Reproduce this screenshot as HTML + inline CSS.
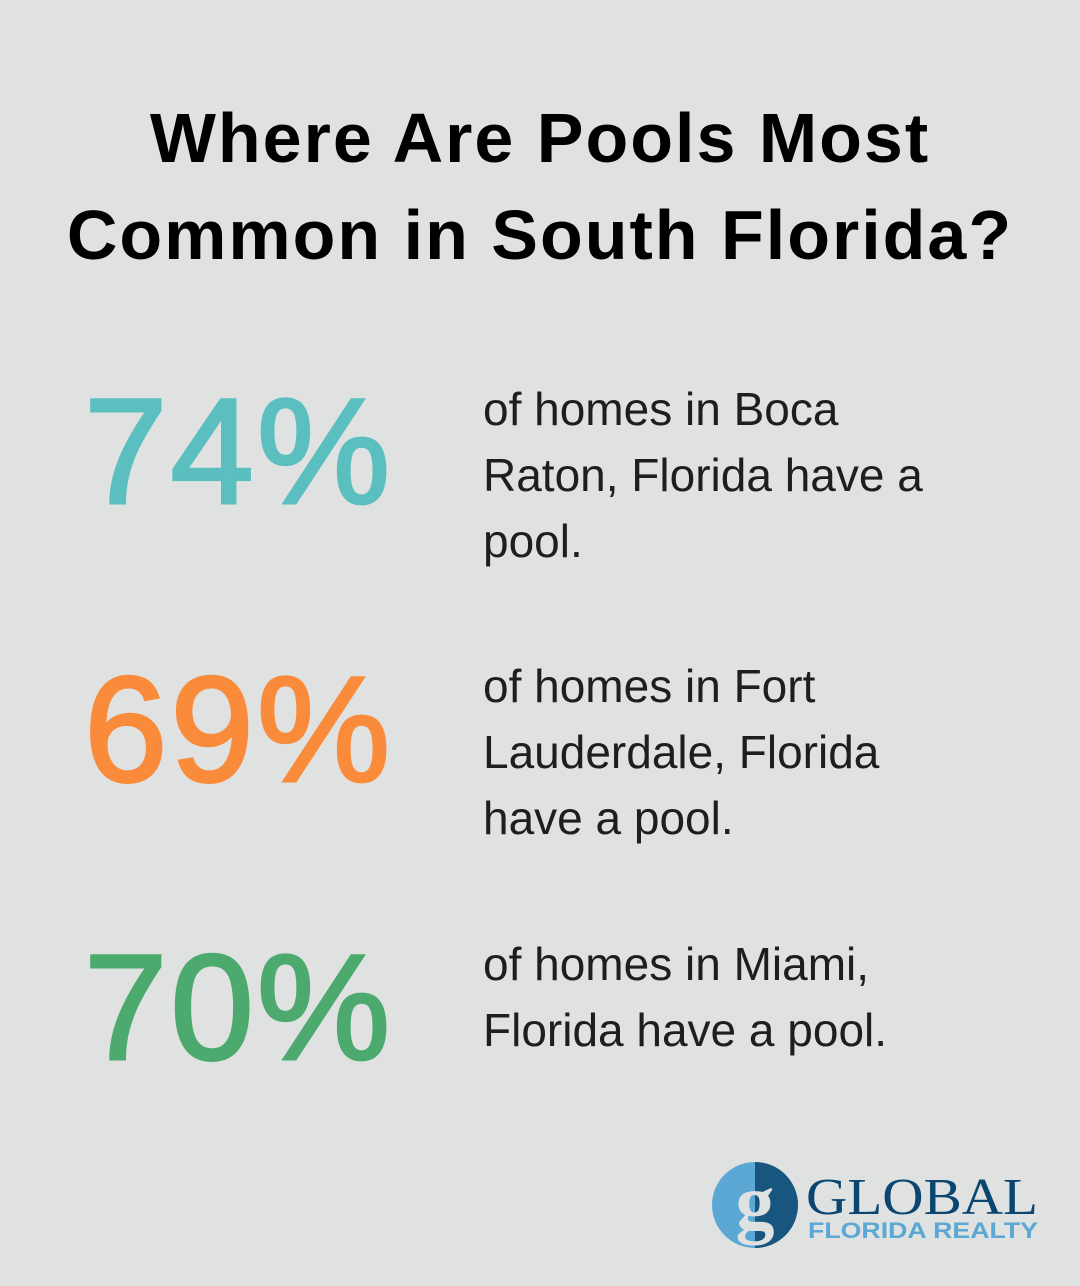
<!DOCTYPE html>
<html><head><style>
body{margin:0;width:1080px;height:1286px;background:#e0e2e1;font-family:"Liberation Sans",sans-serif;position:relative;overflow:hidden}
.t{position:absolute;left:0;width:1080px;text-align:center;font-weight:bold;font-size:70px;letter-spacing:2px;line-height:97px;top:90px;color:#000}
.n{position:absolute;left:84px;font-size:150px;line-height:1;letter-spacing:3px;-webkit-text-stroke:3px currentColor}
.d{position:absolute;left:483px;font-size:46px;line-height:66px;color:#1e1e1e}
</style></head><body>
<div class="t">Where Are Pools Most<br>Common in South Florida?</div>
<div class="n" style="top:376px;color:#5bbfc0">74%</div>
<div class="d" style="top:376px">of homes in Boca<br>Raton, Florida have a<br>pool.</div>
<div class="n" style="top:654px;color:#f98b3a">69%</div>
<div class="d" style="top:653px">of homes in Fort<br>Lauderdale, Florida<br>have a pool.</div>
<div class="n" style="top:932px;color:#4daa6e">70%</div>
<div class="d" style="top:931px">of homes in Miami,<br>Florida have a pool.</div>
<svg style="position:absolute;left:700px;top:1150px" width="360" height="110">
<circle cx="55" cy="55" r="43" fill="#5aa8d3"/>
<path d="M55 12 A43 43 0 0 1 55 98 Z" fill="#0e4870" opacity="0.85"/>
<text x="55" y="78" font-family="Liberation Serif" font-weight="bold" font-size="78" fill="#e0e2e1" text-anchor="middle">g</text>
<text x="106" y="64" font-family="Liberation Serif" font-size="52" fill="#0b4670" textLength="232" lengthAdjust="spacingAndGlyphs">GLOBAL</text>
<text x="108" y="88" font-family="Liberation Sans" font-weight="bold" font-size="22" fill="#5aa8d3" textLength="230" lengthAdjust="spacingAndGlyphs">FLORIDA REALTY</text>
</svg>
</body></html>
